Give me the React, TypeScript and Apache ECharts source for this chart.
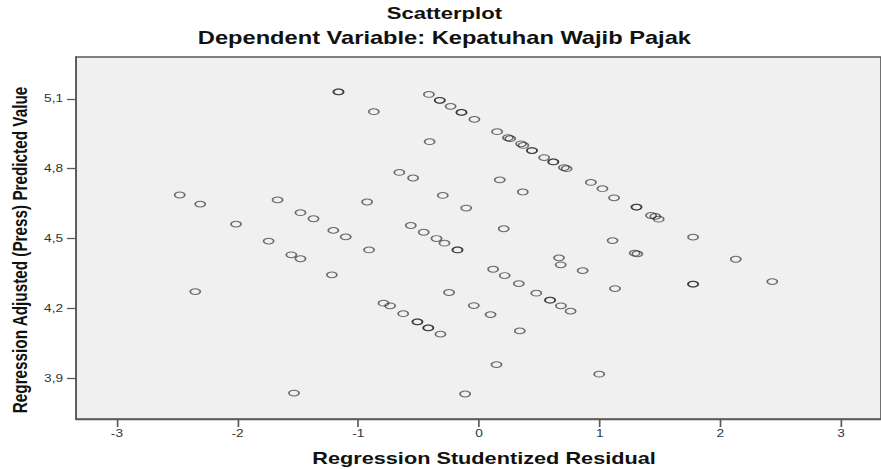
import React, { useEffect, useRef } from "react";
import * as echarts from "echarts";

// Regression Studentized Residual (x) and Regression Adjusted (Press) Predicted Value (y)
const residual = [
  -1.164, -1.164, -0.415, -0.325, -0.325, -0.235, -0.145, -0.145, -0.038, -0.871,
  0.150, 0.240, 0.259, 0.349, 0.368, 0.439, 0.439, 0.540, 0.616, 0.616,
  0.704, 0.726, -0.409, -0.660, -0.546, 0.172, 0.363, 0.927, 1.023, 1.119,
  1.305, 1.305, 1.426, 1.461, 1.489, -0.300, -0.106, -0.927, -2.480, -2.310,
  -1.669, -1.479, -1.371, -2.013, -1.207, -1.104, -1.743, -1.555, -1.479, -1.219,
  -2.351, -1.533, -0.565, -0.458, -0.352, -0.286, -0.178, -0.178, 0.205, -0.911,
  -0.248, 0.117, 0.213, 0.330, 0.475, 0.589, 0.589, 0.679, 0.759, 0.663,
  0.677, 0.859, -0.791, -0.736, -0.628, -0.510, -0.510, -0.420, -0.420, -0.319,
  -0.043, 0.096, 0.338, 0.145, -0.115, 1.107, 1.774, 1.290, 1.312, 2.128,
  1.127, 1.774, 1.774, 2.430, 0.996
];
const predicted = [
  5.130, 5.130, 5.119, 5.094, 5.094, 5.068, 5.042, 5.042, 5.012, 5.045,
  4.959, 4.933, 4.929, 4.907, 4.900, 4.878, 4.878, 4.848, 4.829, 4.829,
  4.805, 4.800, 4.916, 4.784, 4.760, 4.752, 4.700, 4.741, 4.714, 4.675,
  4.635, 4.635, 4.599, 4.595, 4.583, 4.685, 4.631, 4.657, 4.687, 4.648,
  4.666, 4.611, 4.585, 4.562, 4.535, 4.507, 4.489, 4.430, 4.413, 4.344,
  4.272, 3.836, 4.556, 4.527, 4.500, 4.480, 4.451, 4.451, 4.542, 4.451,
  4.268, 4.368, 4.341, 4.306, 4.265, 4.235, 4.235, 4.211, 4.188, 4.417,
  4.387, 4.362, 4.222, 4.211, 4.177, 4.142, 4.142, 4.116, 4.116, 4.089,
  4.212, 4.173, 4.103, 3.958, 3.832, 4.491, 4.506, 4.437, 4.434, 4.411,
  4.285, 4.304, 4.304, 4.315, 3.917
];
const xTicks = [-3, -2, -1, 0, 1, 2, 3];
const yTicks = [3.9, 4.2, 4.5, 4.8, 5.1];
const titleText = "Scatterplot";
const subtitleText = "Dependent Variable: Kepatuhan Wajib Pajak";
const xName = "Regression Studentized Residual";
const yName = "Regression Adjusted (Press) Predicted Value";

const INNER_W = 678;
const K = 881 / INNER_W;
const FONT = '"Liberation Sans", Arial, sans-serif';
const AXIS = "#5a5a5a";

export default function App() {
  const ref = useRef<HTMLDivElement>(null);
  useEffect(() => {
    const chart = echarts.init(ref.current!, null, { renderer: "svg" });
    chart.setOption({
      animation: false,
      grid: {
        left: 58.5, right: -7.7, top: 57, bottom: 50,
        show: true, backgroundColor: "#f0f0f0", borderColor: AXIS, borderWidth: 1.3,
      },
      xAxis: {
        type: "value", min: -3.339, max: 3.331,
        axisLine: { show: true, onZero: false, lineStyle: { color: AXIS, width: 1.3 } },
        axisTick: { show: true, length: 8, customValues: xTicks, lineStyle: { color: AXIS, width: 1.3 } },
        axisLabel: { customValues: xTicks, margin: 9, fontSize: 10.5, color: "#333", fontFamily: FONT,
          formatter: (v: number) => String(v) },
        splitLine: { show: false },
      },
      yAxis: {
        type: "value", min: 3.7245, max: 5.28,
        axisLine: { show: true, onZero: false, lineStyle: { color: AXIS, width: 1.3 } },
        axisTick: { show: true, length: 7, customValues: yTicks, lineStyle: { color: AXIS, width: 1.3 } },
        axisLabel: { customValues: yTicks, margin: 10, fontSize: 10.5, color: "#333", fontFamily: FONT,
          formatter: (v: number) => v.toFixed(1).replace(".", ",") },
        splitLine: { show: false },
      },
      graphic: [
        { type: "text", x: 342, y: 13, style: { text: titleText, fontSize: 17, fontWeight: "bold", fontFamily: FONT, fill: "#111", align: "center", verticalAlign: "middle" } },
        { type: "text", x: 342, y: 38, style: { text: subtitleText, fontSize: 18.2, fontWeight: "bold", fontFamily: FONT, fill: "#111", align: "center", verticalAlign: "middle" } },
        { type: "text", x: 372.5, y: 458, style: { text: xName, fontSize: 16.7, fontWeight: "bold", fontFamily: FONT, fill: "#111", align: "center", verticalAlign: "middle" } },
        { type: "text", x: 15.4, y: 250, rotation: Math.PI / 2, style: { text: yName, fontSize: 15.3, fontWeight: "bold", fontFamily: FONT, fill: "#111", align: "center", verticalAlign: "middle" } },
      ],
      series: [
        {
          type: "scatter",
          silent: true,
          symbol: "path://M0,3a4,3 0 1,0 8,0a4,3 0 1,0 -8,0z",
          symbolSize: [7.8, 5.8],
          itemStyle: { color: "rgba(0,0,0,0)", borderColor: "rgba(30,30,30,0.8)", borderWidth: 1.15 },
          data: residual.map((x, i) => [x, predicted[i]]),
        },
      ],
    });
    return () => chart.dispose();
  }, []);
  return (
    <div style={{ position: "fixed", left: 0, top: 0, width: 881, height: 469, overflow: "hidden", background: "#fff" }}>
      <div ref={ref} style={{ width: INNER_W, height: 469, transform: `scaleX(${K})`, transformOrigin: "0 0" }} />
    </div>
  );
}
